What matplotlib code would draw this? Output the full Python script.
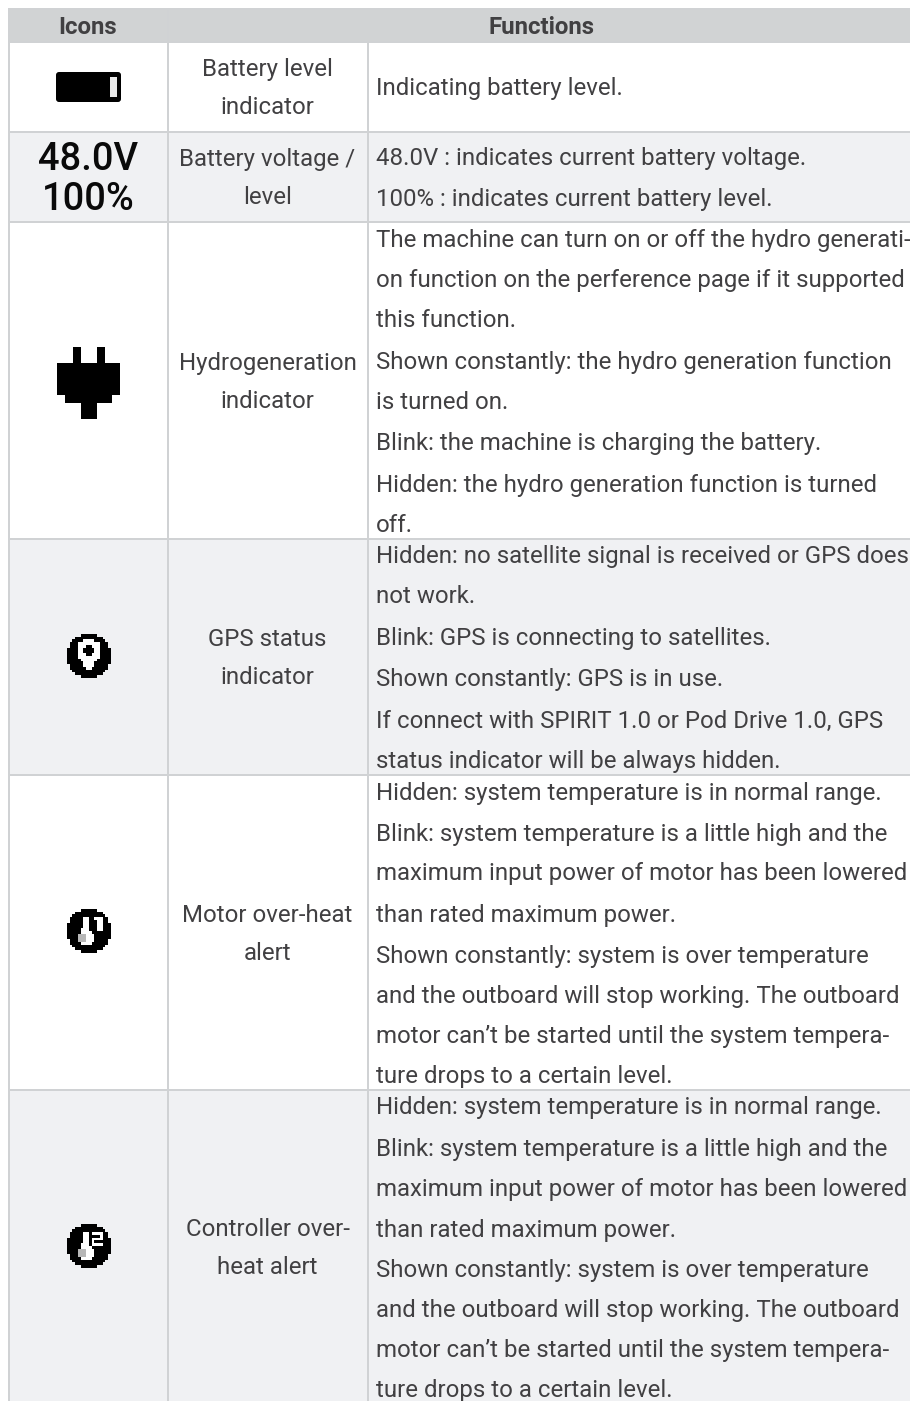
import matplotlib
matplotlib.use('Agg')
import matplotlib.pyplot as plt
from matplotlib.patches import Rectangle, FancyBboxPatch
import numpy as np

headers = ['Icons', 'Functions']
names = [['Battery level', 'indicator'],
         ['Battery voltage /', 'level'],
         ['Hydrogeneration', 'indicator'],
         ['GPS status', 'indicator'],
         ['Motor over-heat', 'alert'],
         ['Controller over-', 'heat alert']]
desc_battery = ['Indicating battery level.']
desc_voltage = ['48.0V : indicates current battery voltage.',
                '100% : indicates current battery level.']
desc_hydro = ['The machine can turn on or off the hydro generati-',
              'on function on the perference page if it supported',
              'this function.',
              'Shown constantly: the hydro generation function',
              'is turned on.',
              'Blink: the machine is charging the battery.',
              'Hidden: the hydro generation function is turned',
              'off.']
desc_gps = ['Hidden: no satellite signal is received or GPS does',
            'not work.',
            'Blink: GPS is connecting to satellites.',
            'Shown constantly: GPS is in use.',
            'If connect with SPIRIT 1.0 or Pod Drive 1.0, GPS',
            'status indicator will be always hidden.']
desc_heat = ['Hidden: system temperature is in normal range.',
             'Blink: system temperature is a little high and the',
             'maximum input power of motor has been lowered',
             'than rated maximum power.',
             'Shown constantly: system is over temperature',
             'and the outboard will stop working. The outboard',
             'motor can\u2019t be started until the system tempera-',
             'ture drops to a certain level.']
voltage_icon = ['48.0V', '100%']

gps_icon = ['.....######.....',
            '...##########...',
            '..####oooo####..',
            '.###oooooooo###.',
            '.###ooo##ooo###.',
            '####oo####oo####',
            '####oo####oo####',
            '####ooo##ooo####',
            '####oooooooo####',
            '#####oooooo#####',
            '######oooo######',
            '.#####oooo#####.',
            '.######oo######.',
            '..############..',
            '...##########...',
            '.....######.....']
motor_icon = ['.....######.....',
              '...##########...',
              '..############..',
              '.#####oo##ooo##.',
              '.#####oo###oo##.',
              '######oo###oo###',
              '######oo###oo###',
              '#####ooo###oo###',
              '#####oooo#######',
              '####gggooo######',
              '####gggooo######',
              '.###gggooo#####.',
              '.####oooo######.',
              '..############..',
              '...##########...',
              '.....######.....']
ctrl_icon = ['.....######.....',
             '...##########...',
             '..############..',
             '.#####oo#oooo##.',
             '.#####oo####o##.',
             '######oo#oooo###',
             '######oo#o######',
             '#####ooo#oooo###',
             '#####oooo#######',
             '####gggooo######',
             '####gggooo######',
             '.###gggooo#####.',
             '.####oooo######.',
             '..############..',
             '...##########...',
             '.....######.....']

# positions, pixels from the top
row_edges = [9, 41.5, 131.5, 222, 539, 775, 1090, 1401]
col_edges = [9, 168, 367.5, 910]
base_battery = [95]
base_voltage = [165, 205.7]
base_hydro = [246.7, 286.7, 326.7, 369, 409, 450, 491.7, 531.7]
base_gps = [563.3, 602.7, 645, 686, 728, 768]
base_motor = [800, 841, 880, 921.7, 963, 1003, 1043, 1082.7]
base_ctrl = [1114, 1155.7, 1195.7, 1236.5, 1277, 1317, 1357, 1397]

TXT = '#414042'
LINE = '#d0d2d4'
FS = 24
W, H = 910, 1401

fig = plt.figure(figsize=(W / 72, H / 72), dpi=72, facecolor='white')
ax = fig.add_axes([0, 0, 1, 1])
ax.set_xlim(0, W)
ax.set_ylim(H, 0)
ax.axis('off')

# header and banded rows
ax.add_patch(Rectangle((col_edges[0], row_edges[0]), W - col_edges[0], row_edges[1] - row_edges[0], color='#d1d3d4', lw=0))
for i in range(1, 7):
    if i % 2 == 0:
        ax.add_patch(Rectangle((col_edges[0], row_edges[i]), W - col_edges[0], row_edges[i + 1] - row_edges[i], color='#f0f1f3', lw=0))

for y in row_edges[:-1]:
    ax.plot([col_edges[0], W], [y, y], color=LINE, lw=2, solid_capstyle='butt')
ax.plot([col_edges[0], col_edges[0]], [row_edges[0], H], color=LINE, lw=2)
ax.plot([col_edges[1], col_edges[1]], [row_edges[0], H], color=LINE, lw=2)
ax.plot([col_edges[2], col_edges[2]], [row_edges[1], H], color=LINE, lw=2)

rc = {'family': 'Roboto', 'color': TXT}
ax.text(88, 34, headers[0], ha='center', va='baseline', fontsize=FS, fontweight='bold', **rc)
ax.text(541, 34, headers[1], ha='center', va='baseline', fontsize=FS, fontweight='bold', **rc)

# middle column, two lines around the centre of each row
for i, pair in enumerate(names):
    mid = (row_edges[i + 1] + row_edges[i + 2]) / 2
    if i == 5:
        mid = 1247
    ax.text(267.5, mid - 10.5, pair[0], ha='center', va='baseline', fontsize=FS, **rc)
    ax.text(267.5, mid + 27, pair[1], ha='center', va='baseline', fontsize=FS, **rc)

for lines, bases in [(desc_battery, base_battery), (desc_voltage, base_voltage), (desc_hydro, base_hydro),
                     (desc_gps, base_gps), (desc_heat, base_motor), (desc_heat, base_ctrl)]:
    for s, b in zip(lines, bases):
        ax.text(375.5, b, s, ha='left', va='baseline', fontsize=FS, **rc)

# battery icon
ax.add_patch(FancyBboxPatch((58, 74), 61, 26, boxstyle='round,pad=2,rounding_size=3', fc='black', ec='none'))
ax.add_patch(Rectangle((110, 77), 6.5, 20, color='#e8e8e8', lw=0))

ax.text(88.5, 170, voltage_icon[0], ha='center', va='baseline', fontsize=38, family='Roboto', fontweight='medium', color='#0a0a0a')
ax.text(88.5, 210.5, voltage_icon[1], ha='center', va='baseline', fontsize=38, family='Roboto', fontweight='medium', color='#0a0a0a')

# plug icon
for x0, y0, w, h in [(73, 347.3, 8, 17), (97, 347.3, 7.5, 17), (56.7, 363.3, 63.6, 32), (65, 395, 47, 8), (81, 403, 16, 16)]:
    ax.add_patch(Rectangle((x0, y0), w, h, color='black', lw=0))


def draw_bitmap(rows, cx, cy, size, bg):
    arr = np.zeros((len(rows), len(rows[0]), 3))
    colors = {'#': (0, 0, 0), 'o': (1, 1, 1), 'g': (0.72, 0.72, 0.72), '.': matplotlib.colors.to_rgb(bg)}
    for r, row in enumerate(rows):
        for c, ch in enumerate(row):
            arr[r, c] = colors[ch]
    half = size / 2
    ax.imshow(arr, extent=(cx - half, cx + half, cy + half, cy - half), interpolation='nearest', aspect='auto', zorder=3)


draw_bitmap(gps_icon, 89, 656, 44, '#f0f1f3')
draw_bitmap(motor_icon, 89, 931, 44, '#ffffff')
draw_bitmap(ctrl_icon, 89, 1246, 44, '#f0f1f3')

ax.set_xlim(0, W)
ax.set_ylim(H, 0)
fig.savefig('out.png', dpi=72)
